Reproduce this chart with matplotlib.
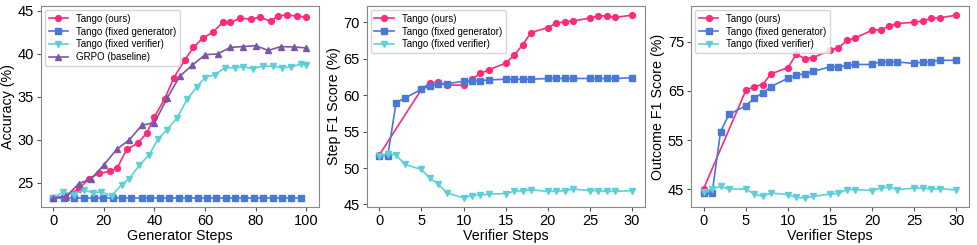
import matplotlib
matplotlib.use("Agg")
import matplotlib.pyplot as plt

plt.rcParams['font.family'] = ['Liberation Sans', 'DejaVu Sans']

## Generator steps panel
gen_x_ours = [0, 4.7, 10, 14.2, 18, 22.4, 25.2, 29, 33.3, 37, 40, 44, 47.7, 52, 55.4,
              59, 63, 67, 70, 74, 78, 81.8, 86, 89, 92.4, 96.5, 100]
gen_ours = [23.26, 23.45, 24.3, 25.5, 26.1, 26.35, 26.7, 28.9, 29.6, 30.8, 32.7, 34.75,
            37.25, 39.3, 40.75, 41.8, 42.5, 43.65, 43.65, 44.15, 44.05, 44.25, 43.8,
            44.45, 44.5, 44.4, 44.25]
gen_x_fixgen = [0, 4.3, 8.3, 12.2, 15.9, 19.8, 23.4, 27.3, 30.9, 34.9, 38.4, 42.1, 45.6,
                49.5, 53.2, 57.1, 60.7, 64.3, 68.3, 71.8, 75.5, 79.3, 83, 86.9, 90.6,
                94.1, 97.8]
gen_fixgen = [23.26, 23.26, 23.26, 23.26, 23.26, 23.26, 23.26, 23.26, 23.26, 23.26,
              23.26, 23.26, 23.26, 23.26, 23.26, 23.26, 23.26, 23.26, 23.26, 23.26,
              23.26, 23.26, 23.26, 23.26, 23.26, 23.26, 23.26]
gen_x_fixver = [0, 4, 8, 12, 15.5, 19, 23, 27, 30, 34, 38, 41.4, 45, 49, 53, 56.7, 60,
                64, 68, 72, 75, 79, 83, 87, 90.5, 94, 98, 100]
gen_fixver = [23.26, 23.95, 23.65, 24.2, 23.85, 23.95, 23.5, 24.8, 25.5, 27.05, 28.3,
              30.1, 31.2, 32.6, 34.75, 36.15, 37.25, 37.6, 38.4, 38.4, 38.5, 38.3, 38.6,
              38.55, 38.4, 38.5, 38.8, 38.7]
gen_x_grpo = [0, 5, 10, 15, 20, 25, 30, 35, 40, 45, 50, 55, 60, 65, 70, 75, 80, 85, 90,
              95, 100]
gen_grpo = [23.26, 23.4, 24.9, 25.5, 27.1, 28.9, 30.0, 31.7, 32.0, 34.85, 37.4, 38.7,
            39.9, 40.0, 40.75, 40.85, 40.95, 40.4, 40.85, 40.8, 40.7]

## Verifier steps panels
ver_x_ours = [0, 5, 6, 7, 8, 10, 11, 12, 13, 15, 16, 17, 18, 20, 21, 22, 23, 25, 26, 27,
              28, 30]
ver_x_fix = [0, 1, 2, 3, 5, 6, 7, 8, 10, 11, 12, 13, 15, 16, 17, 18, 20, 21, 22, 23, 25,
             26, 27, 28, 30]

step_ours = [51.8, 60.8, 61.7, 61.8, 61.4, 61.4, 62.2, 63.0, 63.5, 64.4, 65.5, 66.9,
             68.6, 69.3, 69.9, 70.1, 70.2, 70.6, 70.9, 70.9, 70.7, 71.0]
step_fixgen = [51.7, 51.7, 59.0, 59.6, 60.8, 61.3, 61.5, 61.6, 61.9, 62.0, 62.0, 62.1,
               62.2, 62.2, 62.2, 62.2, 62.3, 62.3, 62.3, 62.3, 62.3, 62.3, 62.3, 62.3,
               62.4]
step_fixver = [51.7, 51.9, 51.8, 50.5, 49.8, 48.6, 47.8, 46.6, 45.9, 46.2, 46.3, 46.4,
               46.5, 46.8, 46.9, 47.0, 46.8, 46.8, 46.9, 47.1, 46.9, 46.9, 46.8, 46.8,
               46.9]

out_ours = [45.1, 65.1, 65.9, 66.3, 68.5, 69.75, 72.5, 71.6, 71.8, 73.3, 73.8, 75.3,
            75.8, 77.4, 77.5, 78.2, 78.75, 79.0, 79.3, 79.8, 79.9, 80.45]
out_fixgen = [44.1, 44.1, 56.7, 60.2, 62.0, 63.5, 64.6, 65.9, 67.6, 68.2, 68.5, 69.0,
              69.9, 69.9, 70.2, 70.4, 70.4, 71.0, 70.9, 70.9, 70.6, 70.9, 71.0, 71.25,
              71.25]
out_fixver = [44.5, 45.0, 45.55, 45.0, 45.0, 44.0, 43.5, 44.2, 43.85, 43.3, 43.2, 43.5,
              44.0, 44.1, 44.9, 44.9, 44.7, 45.2, 45.35, 44.9, 45.2, 45.2, 45.0, 45.1,
              44.8]

c_ours = '#ff2a7a'
c_fixgen = '#4a78d8'
c_fixver = '#5ccfd8'
c_grpo = '#7d55a8'

lw = 1.2
ms = 4.2

fig = plt.figure(figsize=(9.77, 2.45), dpi=100)
ax1 = fig.add_axes([0.0417, 0.155, 0.2846, 0.8204])
ax2 = fig.add_axes([0.3753, 0.155, 0.2846, 0.8204])
ax3 = fig.add_axes([0.7073, 0.155, 0.2846, 0.8204])

ax1.plot(gen_x_ours, gen_ours, color=c_ours, marker='o', lw=lw, ms=ms, label='Tango (ours)')
ax1.plot(gen_x_fixgen, gen_fixgen, color=c_fixgen, marker='s', lw=lw, ms=ms,
         label='Tango (fixed generator)')
ax1.plot(gen_x_fixver, gen_fixver, color=c_fixver, marker='v', lw=lw, ms=ms,
         label='Tango (fixed verifier)')
ax1.plot(gen_x_grpo, gen_grpo, color=c_grpo, marker='^', lw=lw, ms=ms, label='GRPO (baseline)')
ax1.set_xlabel('Generator Steps', fontsize=10.3, labelpad=1)
ax1.set_ylabel('Accuracy (%)', fontsize=10.3, labelpad=2)
ax1.set_xticks([0, 20, 40, 60, 80, 100])
ax1.set_yticks([25, 30, 35, 40, 45])

ax2.plot(ver_x_ours, step_ours, color=c_ours, marker='o', lw=lw, ms=ms, label='Tango (ours)')
ax2.plot(ver_x_fix, step_fixgen, color=c_fixgen, marker='s', lw=lw, ms=ms,
         label='Tango (fixed generator)')
ax2.plot(ver_x_fix, step_fixver, color=c_fixver, marker='v', lw=lw, ms=ms,
         label='Tango (fixed verifier)')
ax2.set_xlabel('Verifier Steps', fontsize=10.3, labelpad=1)
ax2.set_ylabel('Step F1 Score (%)', fontsize=10.3, labelpad=2)
ax2.set_xticks([0, 5, 10, 15, 20, 25, 30])
ax2.set_yticks([45, 50, 55, 60, 65, 70])

ax3.plot(ver_x_ours, out_ours, color=c_ours, marker='o', lw=lw, ms=ms, label='Tango (ours)')
ax3.plot(ver_x_fix, out_fixgen, color=c_fixgen, marker='s', lw=lw, ms=ms,
         label='Tango (fixed generator)')
ax3.plot(ver_x_fix, out_fixver, color=c_fixver, marker='v', lw=lw, ms=ms,
         label='Tango (fixed verifier)')
ax3.set_xlabel('Verifier Steps', fontsize=10.3, labelpad=1)
ax3.set_ylabel('Outcome F1 Score (%)', fontsize=10.3, labelpad=2)
ax3.set_xticks([0, 5, 10, 15, 20, 25, 30])
ax3.set_yticks([45, 55, 65, 75])

for ax in (ax1, ax2, ax3):
    ax.tick_params(labelsize=10.5, length=3, color='#555555', pad=2)
    for sp in ax.spines.values():
        sp.set_color('#888888')
    ax.legend(loc='upper left', fontsize=7, framealpha=0.8, borderpad=0.4,
              handlelength=2.0, labelspacing=0.28, borderaxespad=0.4)

plt.savefig('out.png', dpi=100)
